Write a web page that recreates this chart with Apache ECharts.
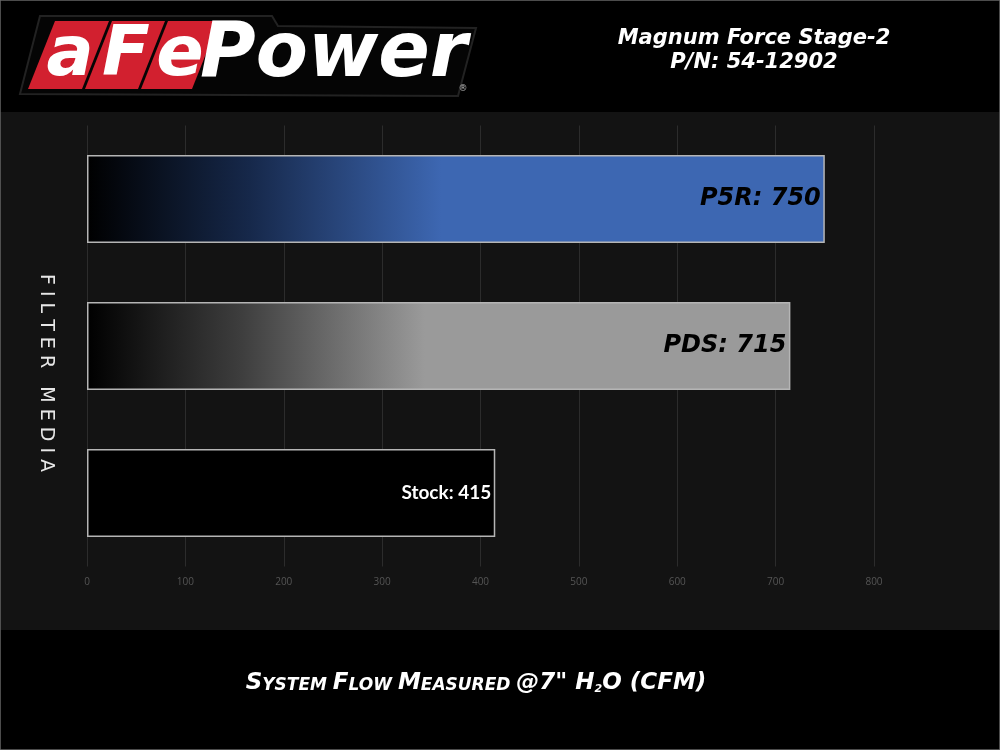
<!DOCTYPE html>
<html>
<head>
<meta charset="utf-8">
<script src="https://cdn.jsdelivr.net/npm/echarts@6/dist/echarts.min.js"></script>
<style>html,body{margin:0;padding:0;background:#000;}#chart{width:1000px;height:750px;}</style>
</head>
<body>
<div id="chart"></div>
<script>
// ---- data ----
var categories = ['Stock', 'PDS', 'P5R'];
var values = [415, 715, 750];
var xTicks = [0, 100, 200, 300, 400, 500, 600, 700, 800];
var titleLines = ['Magnum Force Stage-2', 'P/N: 54-12902'];
var yAxisTitle = 'FILTER MEDIA';

var chart = echarts.init(document.getElementById('chart'), null, {renderer: 'canvas'});

function grad(c, mid) {
  return new echarts.graphic.LinearGradient(0, 0, 1, 0, [
    {offset: 0, color: '#000000'},
    {offset: 0.22, color: mid},
    {offset: 0.48, color: c},
    {offset: 1, color: c}
  ]);
}
var fills = [ '#000000', grad('#9a9a9a', '#3e3e3e'), grad('#3d67b2', '#16284a') ];
var labelStyles = [
  {color: '#ffffff', fontFamily: 'Lato', fontWeight: 'bold', fontSize: 19},
  {color: '#000000', fontFamily: 'DejaVu Sans', fontWeight: 'bold', fontStyle: 'italic', fontSize: 24},
  {color: '#000000', fontFamily: 'DejaVu Sans', fontWeight: 'bold', fontStyle: 'italic', fontSize: 24}
];

var barData = values.map(function (v, i) {
  return {
    value: v,
    itemStyle: {color: fills[i], borderColor: '#b5b5b5', borderWidth: 1.5},
    label: Object.assign({
      show: true, position: 'insideRight', distance: 4,
      formatter: categories[i] + ': ' + v
    }, labelStyles[i])
  };
});

var spaced = yAxisTitle.split('').join(' ');
var logoFont = {fill: '#fff', fontSize: 70, fontWeight: 900, fontStyle: 'italic', fontFamily: 'DejaVu Sans', align: 'center', verticalAlign: 'middle'};

var option = {
  backgroundColor: '#000000',
  animation: false,
  grid: {left: 87, right: 126, top: 125.5, bottom: 183.5, containLabel: false},
  xAxis: {
    type: 'value', min: 0, max: 800, interval: 100,
    axisLine: {show: false}, axisTick: {show: false},
    splitLine: {show: true, lineStyle: {color: '#2c2c2c', width: 1}},
    axisLabel: {color: '#555555', fontSize: 10, fontFamily: 'Open Sans', margin: 11}
  },
  yAxis: {
    type: 'category', data: categories,
    axisLine: {show: false}, axisTick: {show: false}, axisLabel: {show: false},
    splitLine: {show: false}
  },
  series: [{
    type: 'bar', data: barData, barWidth: 88, z: 5
  }],
  graphic: [
    // backgrounds
    {type: 'rect', z: -10, silent: true, shape: {x: 0, y: 112, width: 1000, height: 518}, style: {fill: '#131313'}},
    {type: 'rect', z: -9, silent: true, shape: {x: 0, y: 0, width: 1000, height: 750}, style: {fill: 'none', stroke: '#666', lineWidth: 1.5}},
    // logo outline
    {type: 'polygon', z: 1, shape: {points: [[40, 16], [272, 16], [278, 26], [476, 28], [458, 96], [20, 94]]}, style: {fill: '#050505', stroke: '#222', lineWidth: 2}},
    // red blocks
    {type: 'polygon', z: 2, shape: {points: [[55, 21], [109, 21], [82, 89], [28, 89]]}, style: {fill: '#d2202f'}},
    {type: 'polygon', z: 2, shape: {points: [[112, 21], [165, 21], [138, 89], [85, 89]]}, style: {fill: '#d2202f'}},
    {type: 'polygon', z: 2, shape: {points: [[168, 21], [219, 21], [192, 89], [141, 89]]}, style: {fill: '#d2202f'}},
    {type: 'text', z: 3, style: Object.assign({text: 'a', x: 70, y: 57}, logoFont)},
    {type: 'text', z: 3, style: Object.assign({text: 'F', x: 126, y: 57}, logoFont)},
    {type: 'text', z: 3, style: Object.assign({text: 'e', x: 180, y: 57}, logoFont)},
    {type: 'text', z: 3, style: {text: 'Power', x: 200, y: 56, align: 'left', verticalAlign: 'middle', fill: '#fff', fontSize: 76, fontWeight: 900, fontStyle: 'italic', fontFamily: 'DejaVu Sans'}},
    {type: 'text', z: 3, style: {text: '®', x: 463, y: 89, align: 'center', verticalAlign: 'middle', fill: '#bbb', fontSize: 9, fontFamily: 'DejaVu Sans'}},
    // title
    {type: 'text', z: 3, style: {text: titleLines[0], x: 754, y: 39, align: 'center', verticalAlign: 'middle', fill: '#fff', fontSize: 21, fontWeight: 'bold', fontStyle: 'italic', fontFamily: 'DejaVu Sans'}},
    {type: 'text', z: 3, style: {text: titleLines[1], x: 754, y: 63, align: 'center', verticalAlign: 'middle', fill: '#fff', fontSize: 21, fontWeight: 'bold', fontStyle: 'italic', fontFamily: 'DejaVu Sans'}},
    // y axis title
    {type: 'text', z: 3, x: 46, y: 373, rotation: -Math.PI / 2, style: {text: spaced, x: 0, y: 0, align: 'center', verticalAlign: 'middle', fill: '#e6e6e6', fontSize: 19, fontFamily: 'DejaVu Sans'}},
    // x axis title (small caps)
    {type: 'text', z: 3, style: {
      x: 476, y: 683, align: 'center', verticalAlign: 'middle',
      text: '{b|S}{s|YSTEM }{b|F}{s|LOW }{b|M}{s|EASURED }{b|@7" H}{sub|2}{b|O (CFM)}',
      rich: {
        b: {fill: '#fff', fontSize: 23, fontWeight: 'bold', fontStyle: 'italic', fontFamily: 'DejaVu Sans', verticalAlign: 'bottom'},
        s: {fill: '#fff', fontSize: 17, fontWeight: 'bold', fontStyle: 'italic', fontFamily: 'DejaVu Sans', verticalAlign: 'bottom'},
        sub: {fill: '#fff', fontSize: 11, fontWeight: 'bold', fontStyle: 'italic', fontFamily: 'DejaVu Sans', verticalAlign: 'bottom'}
      }
    }}
  ]
};
chart.setOption(option);
</script>
</body>
</html>
